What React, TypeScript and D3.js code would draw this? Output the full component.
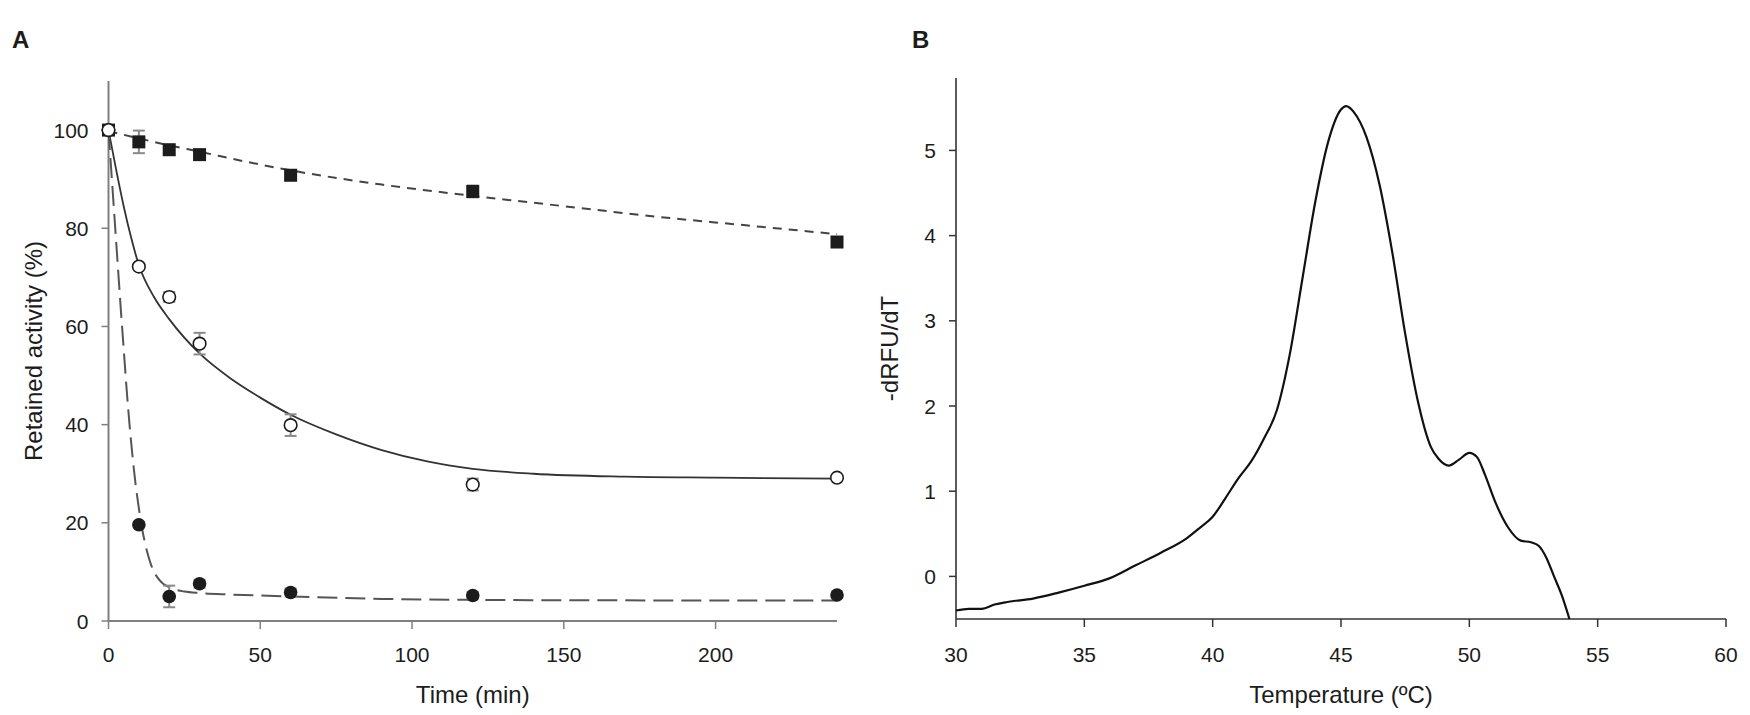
import React from 'react';
import * as d3 from 'd3';

// ---- Panel A: retained activity over time ----
const times = [0, 10, 20, 30, 60, 120, 240];
const squareValues = [100, 97.6, 96, 95, 90.8, 87.5, 77.2];
const squareErrors = [0.6, 2.3, 1, 0.8, 1, 1.2, 0.8];
const openValues = [100, 72.2, 66, 56.5, 39.9, 27.8, 29.2];
const openErrors = [0.5, 0.6, 1, 2.2, 2.2, 1.2, 0.5];
const filledValues = [100, 19.6, 5, 7.6, 5.8, 5.2, 5.3];
const filledErrors = [0.5, 0.6, 2.2, 0.8, 0.8, 0.7, 0.5];

// fitted curves as [time, value]
const squareFit: [number, number][] = [
  [0, 99.8], [10, 98.3], [20, 96.9], [30, 95.6], [45, 93.6], [60, 91.8], [90, 88.9],
  [120, 86.6], [150, 84.5], [180, 82.4], [210, 80.6], [240, 78.8],
];
const openFit: [number, number][] = [
  [0, 100], [2.5, 92], [5, 84.5], [7.5, 78], [10, 72.5], [15, 66], [20, 61.5], [30, 54.5],
  [40, 49.5], [50, 45.5], [60, 42], [75, 38], [90, 34.8], [105, 32.5], [120, 31], [140, 30],
  [170, 29.4], [200, 29.2], [240, 29],
];
const filledFit: [number, number][] = [
  [0, 100], [1, 91], [2, 82], [3, 73], [4, 64], [5, 55.5], [6, 47], [7, 39.5], [8, 33],
  [9, 27.5], [10, 23], [11, 19], [12, 16], [13, 13.5], [14, 11.5], [15, 10], [16, 9],
  [17, 8.2], [18, 7.6], [20, 6.9], [22, 6.4], [25, 6], [30, 5.7], [40, 5.4], [60, 5],
  [90, 4.5], [120, 4.3], [180, 4.2], [240, 4.2],
];
const timeTicks = [0, 50, 100, 150, 200];
const activityTicks = [0, 20, 40, 60, 80, 100];

// ---- Panel B: melt curve derivative ----
const meltCurve: [number, number][] = [
  [30, -0.4], [30.5, -0.38], [31, -0.38], [31.5, -0.33], [32, -0.3], [33, -0.26], [34, -0.19],
  [35, -0.11], [36, -0.02], [37, 0.13], [38, 0.28], [39, 0.45], [39.5, 0.57], [40, 0.7],
  [40.5, 0.92], [41, 1.15], [41.5, 1.35], [42, 1.62], [42.5, 1.95], [43, 2.6], [43.5, 3.5],
  [44, 4.4], [44.5, 5.1], [45, 5.48], [45.2, 5.52], [45.5, 5.45], [46, 5.15], [46.5, 4.6],
  [47, 3.8], [47.5, 2.85], [48, 2.05], [48.5, 1.52], [48.8, 1.38], [49.2, 1.3], [49.6, 1.37],
  [50, 1.45], [50.3, 1.4], [50.6, 1.2], [51, 0.88], [51.5, 0.58], [52, 0.42], [52.4, 0.4],
  [52.7, 0.36], [53, 0.22], [53.3, 0], [53.6, -0.22], [53.9, -0.5],
];
const tempTicks = [30, 35, 40, 45, 50, 55, 60];
const dfTicks = [0, 1, 2, 3, 4, 5];

const W = 1750;
const H = 715;
const FONT = '"Liberation Sans", Arial, sans-serif';

const App: React.FC = () => {
  /* ---------- Scales ---------- */
  const xA = d3.scaleLinear().domain([0, 240]).range([108.5, 837]);
  const yA = d3.scaleLinear().domain([0, 110]).range([621, 81]);
  const xB = d3.scaleLinear().domain([30, 60]).range([956, 1726]);
  const yB = d3.scaleLinear().domain([-0.5, 5.85]).range([619, 78]);

  const lineA = d3
    .line<[number, number]>()
    .x(d => xA(d[0]))
    .y(d => yA(d[1]))
    .curve(d3.curveMonotoneX);
  const lineB = d3
    .line<[number, number]>()
    .x(d => xB(d[0]))
    .y(d => yB(d[1]))
    .curve(d3.curveMonotoneX);

  const axisGrey = '#808080';
  const ink = '#1c1c1c';

  const errorBars = (vals: number[], errs: number[], key: string) =>
    times.map((t, i) => {
      const cx = xA(t);
      const top = yA(vals[i] + errs[i]);
      const bot = yA(vals[i] - errs[i]);
      return (
        <g key={`${key}-${i}`} stroke="#8a8a8a" strokeWidth={2}>
          <line x1={cx} x2={cx} y1={top} y2={bot} />
          <line x1={cx - 6} x2={cx + 6} y1={top} y2={top} />
          <line x1={cx - 6} x2={cx + 6} y1={bot} y2={bot} />
        </g>
      );
    });

  return (
    <svg
      width={W}
      height={H}
      style={{ position: 'absolute', left: 0, top: 0, background: '#fff' }}
      fontFamily={FONT}
    >
      <rect width={W} height={H} fill="#fff" />

      {/* ---------- Panel letters ---------- */}
      <text x={12} y={48} fontSize={24} fontWeight="bold" fill={ink}>A</text>
      <text x={912} y={48} fontSize={24} fontWeight="bold" fill={ink}>B</text>

      {/* ---------- Panel A axes ---------- */}
      <line x1={xA(0)} x2={xA(0)} y1={yA(0)} y2={yA(110)} stroke={axisGrey} strokeWidth={2} />
      <line x1={xA(0)} x2={xA(240)} y1={yA(0)} y2={yA(0)} stroke={axisGrey} strokeWidth={2} />
      {activityTicks.map(v => (
        <g key={`ya-${v}`}>
          <line x1={xA(0) - 7} x2={xA(0)} y1={yA(v)} y2={yA(v)} stroke={axisGrey} strokeWidth={1.5} />
          <text x={xA(0) - 20} y={yA(v)} dy="0.36em" textAnchor="end" fontSize={21} fill={ink}>
            {v}
          </text>
        </g>
      ))}
      {timeTicks.map(v => (
        <g key={`xa-${v}`}>
          <line x1={xA(v)} x2={xA(v)} y1={yA(0)} y2={yA(0) + 8} stroke={axisGrey} strokeWidth={1.5} />
          <text x={xA(v)} y={662} textAnchor="middle" fontSize={21} fill={ink}>
            {v}
          </text>
        </g>
      ))}
      <text x={(xA(0) + xA(240)) / 2} y={703} textAnchor="middle" fontSize={24} fill={ink}>
        Time (min)
      </text>
      <text
        transform={`translate(42,${(yA(0) + yA(110)) / 2}) rotate(-90)`}
        textAnchor="middle"
        fontSize={24}
        fill={ink}
      >
        Retained activity (%)
      </text>

      {/* ---------- Panel A fits ---------- */}
      <path d={lineA(squareFit) ?? ''} fill="none" stroke="#444" strokeWidth={2} strokeDasharray="9,7" />
      <path d={lineA(openFit) ?? ''} fill="none" stroke="#333" strokeWidth={1.8} />
      <path d={lineA(filledFit) ?? ''} fill="none" stroke="#555" strokeWidth={2} strokeDasharray="20,8" />

      {/* ---------- Panel A error bars ---------- */}
      {errorBars(squareValues, squareErrors, 'sq')}
      {errorBars(filledValues, filledErrors, 'fc')}
      {errorBars(openValues, openErrors, 'oc')}

      {/* ---------- Panel A markers ---------- */}
      {times.map((t, i) => (
        <rect
          key={`sqm-${i}`}
          x={xA(t) - 6.5}
          y={yA(squareValues[i]) - 6.5}
          width={13}
          height={13}
          fill={ink}
        />
      ))}
      {times.map((t, i) => (
        <circle key={`fcm-${i}`} cx={xA(t)} cy={yA(filledValues[i])} r={6.8} fill={ink} />
      ))}
      {times.map((t, i) => (
        <circle
          key={`ocm-${i}`}
          cx={xA(t)}
          cy={yA(openValues[i])}
          r={6.3}
          fill="#fff"
          stroke={ink}
          strokeWidth={1.6}
        />
      ))}

      {/* ---------- Panel B axes ---------- */}
      <line x1={xB(30)} x2={xB(30)} y1={yB(-0.5)} y2={yB(5.85)} stroke="#333" strokeWidth={1.6} />
      <line x1={xB(30)} x2={xB(60)} y1={yB(-0.5)} y2={yB(-0.5)} stroke="#333" strokeWidth={1.6} />
      {dfTicks.map(v => (
        <g key={`yb-${v}`}>
          <line x1={xB(30) - 7} x2={xB(30)} y1={yB(v)} y2={yB(v)} stroke="#333" strokeWidth={1.5} />
          <text x={xB(30) - 20} y={yB(v)} dy="0.36em" textAnchor="end" fontSize={21} fill={ink}>
            {v}
          </text>
        </g>
      ))}
      {tempTicks.map(v => (
        <g key={`xb-${v}`}>
          <line x1={xB(v)} x2={xB(v)} y1={yB(-0.5)} y2={yB(-0.5) + 8} stroke="#333" strokeWidth={1.5} />
          <text x={xB(v)} y={662} textAnchor="middle" fontSize={21} fill={ink}>
            {v}
          </text>
        </g>
      ))}
      <text x={(xB(30) + xB(60)) / 2} y={703} textAnchor="middle" fontSize={24} fill={ink}>
        Temperature (ºC)
      </text>
      <text
        transform={`translate(898,${(yB(-0.5) + yB(5.85)) / 2}) rotate(-90)`}
        textAnchor="middle"
        fontSize={24}
        fill={ink}
      >
        -dRFU/dT
      </text>

      {/* ---------- Panel B curve ---------- */}
      <path d={lineB(meltCurve) ?? ''} fill="none" stroke="#111" strokeWidth={2.2} />
    </svg>
  );
};

export default App;
